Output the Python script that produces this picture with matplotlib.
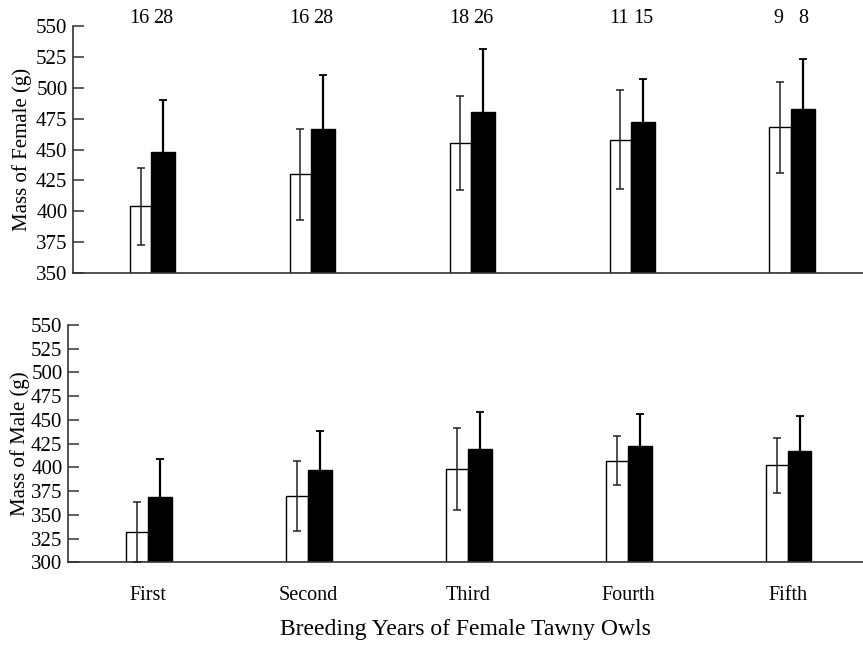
import matplotlib
matplotlib.use("Agg")
import matplotlib.pyplot as plt
import numpy as np

plt.rcParams['font.family'] = ['Liberation Serif', 'DejaVu Serif']

categories = ["First", "Second", "Third", "Fourth", "Fifth"]
# Female mass (top panel)
female_white = [404, 430, 455, 458, 468]
female_white_sd = [31, 37, 38, 40, 37]
female_black = [448, 467, 480, 472, 483]
female_black_sd = [42, 43, 51, 35, 40]
n_white = ["16", "16", "18", "11", "9"]
n_black = ["28", "28", "26", "15", "8"]
# Male mass (bottom panel)
male_white = [332, 370, 398, 407, 402]
male_white_sd = [32, 37, 43, 26, 29]
male_black = [369, 397, 419, 423, 417]
male_black_sd = [40, 41, 39, 33, 37]

fig = plt.figure(figsize=(8.63, 6.45), dpi=100)
ax1 = fig.add_axes([0.0846, 0.5767, 0.9154, 0.383])
ax2 = fig.add_axes([0.0788, 0.1282, 0.9212, 0.368])

x = np.arange(len(categories))
w = 0.135
ww = 0.148

def draw(ax, wv, wsd, bv, bsd, ymin):
    ax.bar(x - w / 2, np.array(wv) - ymin, w, bottom=ymin, color='white',
           edgecolor='black', linewidth=1.0, zorder=2)
    ax.bar(x + ww / 2, np.array(bv) - ymin, ww, bottom=ymin, color='black',
           edgecolor='black', linewidth=1.0, zorder=2)
    ax.errorbar(x - w / 2, wv, yerr=wsd, fmt='none', ecolor='#222222',
                elinewidth=1.1, capsize=2.8, capthick=1.1, zorder=3)
    ax.errorbar(x + ww / 2, bv, yerr=bsd, fmt='none', ecolor='black',
                elinewidth=1.6, capsize=2.8, capthick=1.3, zorder=3)
    for s in ['top', 'right']:
        ax.spines[s].set_visible(False)
    for s in ['left', 'bottom']:
        ax.spines[s].set_color('#333333')
        ax.spines[s].set_linewidth(1.2)
    ax.tick_params(axis='y', direction='in', length=8, width=1.1,
                   labelsize=15, pad=4, color='#333333')

draw(ax1, female_white, female_white_sd, female_black, female_black_sd, 350)
ax1.set_xlim(-0.49, 4.45)
ax1.set_ylim(350, 550)
ax1.set_yticks(np.arange(350, 551, 25))
ax1.set_xticks([])
ax1.set_ylabel("Mass of Female (g)", fontsize=15, labelpad=3)
for i in range(len(categories)):
    ax1.text(x[i] - w / 2 - 0.01, 552.5, n_white[i], ha='center', va='baseline',
             fontsize=14.5, clip_on=False)
    ax1.text(x[i] + ww / 2, 552.5, n_black[i], ha='center', va='baseline',
             fontsize=14.5, clip_on=False)

draw(ax2, male_white, male_white_sd, male_black, male_black_sd, 300)
ax2.set_xlim(-0.5, 4.47)
ax2.set_ylim(300, 550)
ax2.set_yticks(np.arange(300, 551, 25))
ax2.set_xticks(x)
ax2.set_xticklabels(categories, fontsize=14.5)
ax2.tick_params(axis='x', length=0, pad=17)
ax2.set_ylabel("Mass of Male (g)", fontsize=15, labelpad=1)
ax2.set_xlabel("Breeding Years of Female Tawny Owls", fontsize=17, labelpad=10)

fig.savefig("out.png", dpi=100)
